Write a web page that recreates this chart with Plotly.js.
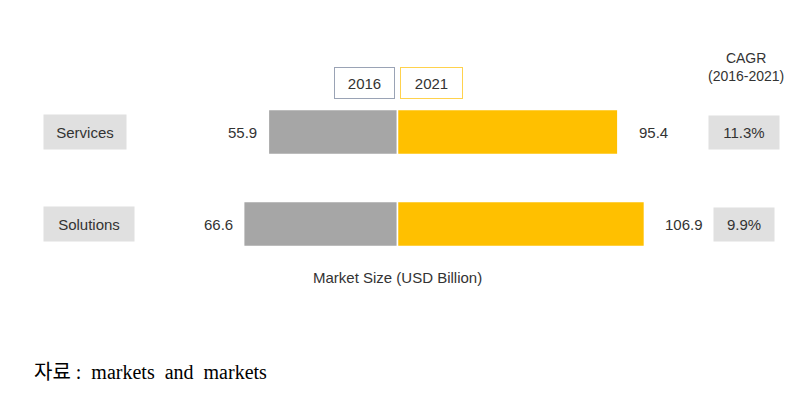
<!DOCTYPE html>
<html><head><meta charset="utf-8">
<script src="https://cdn.plot.ly/plotly-3.0.1.min.js"></script>
<style>html,body{margin:0;padding:0;background:#fff}#chart{width:809px;height:414px}</style>
</head><body><div id="chart"></div>
<script>
const categories = ["Services", "Solutions"];
const years = ["2016", "2021"];
const values2016 = [55.9, 66.6];
const values2021 = [95.4, 106.9];
const cagr = ["11.3%", "9.9%"];
const cagrTitle = "CAGR<br>(2016-2021)";
const xTitle = "Market Size (USD Billion)";
const source = "자료 :\u00a0\u00a0markets\u00a0\u00a0and\u00a0\u00a0markets";

const W = 809, H = 414, T = 86, B = 270;
const py = p => (B - p) / (B - T);
const pxp = p => p / W;
const font = "Liberation Sans, Arial, sans-serif";
const txt = "#333333";

const traces = [
  {type: "bar", orientation: "h", y: categories, x: values2016.map(v => -v), name: years[0],
   marker: {color: "#a6a6a6", line: {color: "#ffffff", width: 1.5}}, width: 0.49, hoverinfo: "none"},
  {type: "bar", orientation: "h", y: categories, x: values2021, name: years[1],
   marker: {color: "#ffc000", line: {color: "#ffffff", width: 1.5}}, width: 0.49, hoverinfo: "none"}
];

const ann = [];
const catBoxW = [82, 90];
const cagrBoxW = [70, 60];
const cagrBoxX = [744, 743.5];
categories.forEach((c, i) => {
  ann.push({xref: "paper", yref: "y", x: pxp(43), y: c, xanchor: "left", yanchor: "middle",
    text: c, showarrow: false, bgcolor: "#e0e0e0", width: catBoxW[i], height: 34, borderpad: 0,
    font: {family: font, size: 15, color: txt}});
  ann.push({xref: "x", yref: "y", x: -values2016[i], y: c, xanchor: "right", yanchor: "middle",
    xshift: -9, text: values2016[i].toFixed(1), showarrow: false,
    font: {family: font, size: 15, color: txt}});
  ann.push({xref: "x", yref: "y", x: values2021[i], y: c, xanchor: "left", yanchor: "middle",
    xshift: 19, text: values2021[i].toFixed(1), showarrow: false,
    font: {family: font, size: 15, color: txt}});
  ann.push({xref: "paper", yref: "y", x: pxp(cagrBoxX[i]), y: c, xanchor: "center", yanchor: "middle",
    text: cagr[i], showarrow: false, bgcolor: "#e0e0e0", width: cagrBoxW[i], height: 33, borderpad: 0,
    font: {family: font, size: 15, color: txt}});
});
ann.push({xref: "paper", yref: "paper", x: pxp(746), y: py(67), xanchor: "center", yanchor: "middle",
  text: cagrTitle, showarrow: false, font: {family: font, size: 14, color: txt}});
ann.push({xref: "paper", yref: "paper", x: pxp(364.5), y: py(83), xanchor: "center", yanchor: "middle",
  text: years[0], showarrow: false, width: 59, height: 30, borderpad: 0, borderwidth: 1,
  bordercolor: "#9aa3b5", bgcolor: "#ffffff", font: {family: font, size: 15, color: txt}});
ann.push({xref: "paper", yref: "paper", x: pxp(431.5), y: py(83), xanchor: "center", yanchor: "middle",
  text: years[1], showarrow: false, width: 61, height: 30, borderpad: 0, borderwidth: 1,
  bordercolor: "#ffd24d", bgcolor: "#ffffff", font: {family: font, size: 15, color: txt}});
ann.push({xref: "paper", yref: "paper", x: pxp(397.5), y: py(277), xanchor: "center", yanchor: "middle",
  text: xTitle, showarrow: false, font: {family: font, size: 15, color: txt}});
ann.push({xref: "paper", yref: "paper", x: pxp(32), y: py(372), xanchor: "left", yanchor: "middle",
  text: source, showarrow: false,
  font: {family: "Liberation Serif, 'Noto Sans CJK KR', serif", size: 20, color: "#000000"}});

const layout = {
  width: W, height: H,
  margin: {l: 0, r: 0, t: T, b: H - B, pad: 0},
  paper_bgcolor: "#ffffff", plot_bgcolor: "#ffffff",
  barmode: "relative", showlegend: false,
  xaxis: {range: [-397.5 / 2.31, 411.5 / 2.31], visible: false, fixedrange: true},
  yaxis: {type: "category", range: [1.5, -0.5], visible: false, fixedrange: true},
  annotations: ann
};
Plotly.newPlot("chart", traces, layout, {displayModeBar: false, staticPlot: true});
</script></body></html>
